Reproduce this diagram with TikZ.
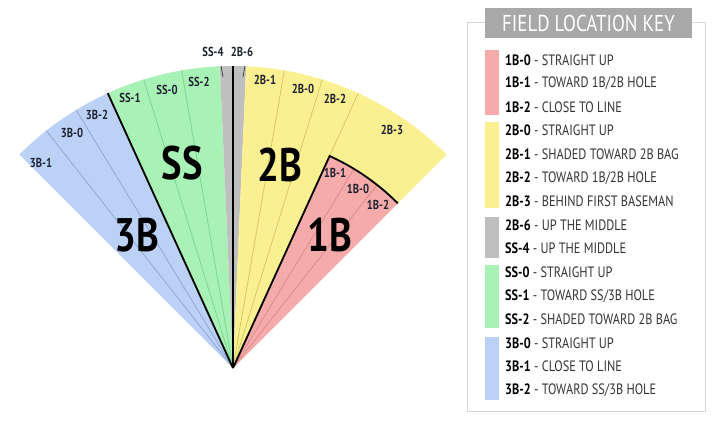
\documentclass[tikz,border=0pt]{standalone}
\usepackage{fontspec}
\setmainfont[FakeStretch=0.82]{PT Sans}

\definecolor{fanblue}{HTML}{BBD2F6}
\definecolor{fanblueline}{HTML}{8FA8D6}
\definecolor{fangreen}{HTML}{A8F2B6}
\definecolor{fangreenline}{HTML}{7ED495}
\definecolor{fangray}{HTML}{BFBFBF}
\definecolor{fanyellow}{HTML}{FAF091}
\definecolor{fanyellowline}{HTML}{D6C862}
\definecolor{fanpink}{HTML}{F6ABAB}
\definecolor{fanpinkline}{HTML}{DC8C8C}
\definecolor{labelink}{HTML}{1E2230}
\definecolor{keyink}{HTML}{333333}
\definecolor{keyframe}{HTML}{D6D6D6}
\definecolor{keytitle}{HTML}{A8A8A8}

\tikzset{
  zonelabel/.style={font=\bfseries\fontsize{13}{15}\selectfont, text=labelink, inner sep=0pt},
  biglabel/.style={font=\bfseries\fontsize{47}{50}\selectfont, text=black, inner sep=0pt},
  keytext/.style={anchor=west, font=\fontsize{15}{17}\selectfont, text=keyink, inner sep=0pt},
  divline/.style={line width=0.8pt},
  zoneedge/.style={line width=1.8pt, black},
}

\begin{document}
\begin{tikzpicture}[x=1pt,y=1pt]
  \useasboundingbox (-233,-53) rectangle (487,368);

  % fan sectors
  \fill[fanblue] (0,0) -- (135:302pt) arc (135:114.5:302pt) -- cycle;
  \fill[fangreen] (0,0) -- (114.5:302pt) arc (114.5:92.5:302pt) -- cycle;
  \fill[fangray] (0,0) -- (92.5:302pt) arc (92.5:87.5:302pt) -- cycle;
  \fill[fanyellow] (0,0) -- (87.5:302pt) arc (87.5:45:302pt) -- cycle;
  \fill[fanpink] (0,0) -- (65.5:233pt) arc (65.5:45:233pt) -- cycle;

  % thin dividers
  \draw[divline, fanblueline] (0,0) -- (128.2:302pt);
  \draw[divline, fanblueline] (0,0) -- (121.3:302pt);
  \draw[divline, fangreenline] (0,0) -- (107.2:302pt);
  \draw[divline, fangreenline] (0,0) -- (99.8:302pt);
  \draw[divline, fanyellowline] (0,0) -- (80.2:302pt);
  \draw[divline, fanyellowline] (0,0) -- (72.8:302pt);
  \draw[divline, fanyellowline] (65.5:233pt) -- (65.5:302pt);
  \draw[divline, fanpinkline] (0,0) -- (58.7:233pt);
  \draw[divline, fanpinkline] (0,0) -- (51.8:233pt);

  % heavy edges
  \draw[zoneedge] (0,0) -- (114.5:302pt);
  \draw[zoneedge] (0,0) -- (90:302pt);
  \draw[zoneedge] (0,0) -- (65.5:233pt) arc (65.5:45:233pt);

  % zone labels
  \node[zonelabel] (tb1) at (-192,205) {3B-1};
  \node[zonelabel] (tb0) at (-161,235) {3B-0};
  \node[zonelabel] (tb2) at (-136,253) {3B-2};
  \node[zonelabel] (ss1) at (-103,270) {SS-1};
  \node[zonelabel] (ss0) at (-66,278) {SS-0};
  \node[zonelabel] (ss2) at (-34,286) {SS-2};
  \node[zonelabel] (ss4) at (-20,316) {SS-4};
  \node[zonelabel] (sb6) at (9,316) {2B-6};
  \node[zonelabel] (sb1) at (32,288) {2B-1};
  \node[zonelabel] (sb0) at (70,279) {2B-0};
  \node[zonelabel] (sb2) at (102,269) {2B-2};
  \node[zonelabel] (sb3) at (159,238) {2B-3};
  \node[zonelabel] (fb1) at (102,195) {1B-1};
  \node[zonelabel] (fb0) at (125,179) {1B-0};
  \node[zonelabel] (fb2) at (145,163) {1B-2};

  % pointer ticks into the middle strip
  \coordinate (ss4tip) at (-10,291);
  \coordinate (sb6tip) at (10,291);
  \draw[line width=0.7pt, keyink] (-12,302) -- (ss4tip);
  \draw[line width=0.7pt, keyink] (12,302) -- (sb6tip);

  \node[biglabel] (ssbig) at (-51,205) {SS};
  \node[biglabel] (tbbig) at (-96,133) {3B};
  \node[biglabel] (sbbig) at (47,203) {2B};
  \node[biglabel] (fbbig) at (97,133) {1B};

  % key
  \draw[keyframe, line width=1pt] (234,345) rectangle (472,-43);
  \node[fill=keytitle, text=white, minimum width=207pt, minimum height=30pt,
        inner sep=0pt, font=\fontsize{23}{26}\selectfont] (keyhead) at (355.5,345) {FIELD LOCATION KEY};

  \fill[fanpink] (252,318) rectangle (266,253);
  \fill[fanyellow] (252,246) rectangle (266,160);
  \fill[fangray] (252,151) rectangle (266,110);
  \fill[fangreen] (252,103) rectangle (266,40);
  \fill[fanblue] (252,31) rectangle (266,-32);

  \node[keytext] (k1b0) at (272,308.0) {\textbf{\color{black}1B-0} - STRAIGHT UP};
  \node[keytext] (k1b1) at (272,284.4) {\textbf{\color{black}1B-1} - TOWARD 1B/2B HOLE};
  \node[keytext] (k1b2) at (272,260.9) {\textbf{\color{black}1B-2} - CLOSE TO LINE};
  \node[keytext] (k2b0) at (272,237.3) {\textbf{\color{black}2B-0} - STRAIGHT UP};
  \node[keytext] (k2b1) at (272,213.7) {\textbf{\color{black}2B-1} - SHADED TOWARD 2B BAG};
  \node[keytext] (k2b2) at (272,190.2) {\textbf{\color{black}2B-2} - TOWARD 1B/2B HOLE};
  \node[keytext] (k2b3) at (272,166.6) {\textbf{\color{black}2B-3} - BEHIND FIRST BASEMAN};
  \node[keytext] (k2b6) at (272,143.0) {\textbf{\color{black}2B-6} - UP THE MIDDLE};
  \node[keytext] (kss4) at (272,119.4) {\textbf{\color{black}SS-4} - UP THE MIDDLE};
  \node[keytext] (kss0) at (272,95.9) {\textbf{\color{black}SS-0} - STRAIGHT UP};
  \node[keytext] (kss1) at (272,72.3) {\textbf{\color{black}SS-1} - TOWARD SS/3B HOLE};
  \node[keytext] (kss2) at (272,48.7) {\textbf{\color{black}SS-2} - SHADED TOWARD 2B BAG};
  \node[keytext] (k3b0) at (272,25.2) {\textbf{\color{black}3B-0} - STRAIGHT UP};
  \node[keytext] (k3b1) at (272,1.6) {\textbf{\color{black}3B-1} - CLOSE TO LINE};
  \node[keytext] (k3b2) at (272,-22.0) {\textbf{\color{black}3B-2} - TOWARD SS/3B HOLE};
\end{tikzpicture}
\end{document}
